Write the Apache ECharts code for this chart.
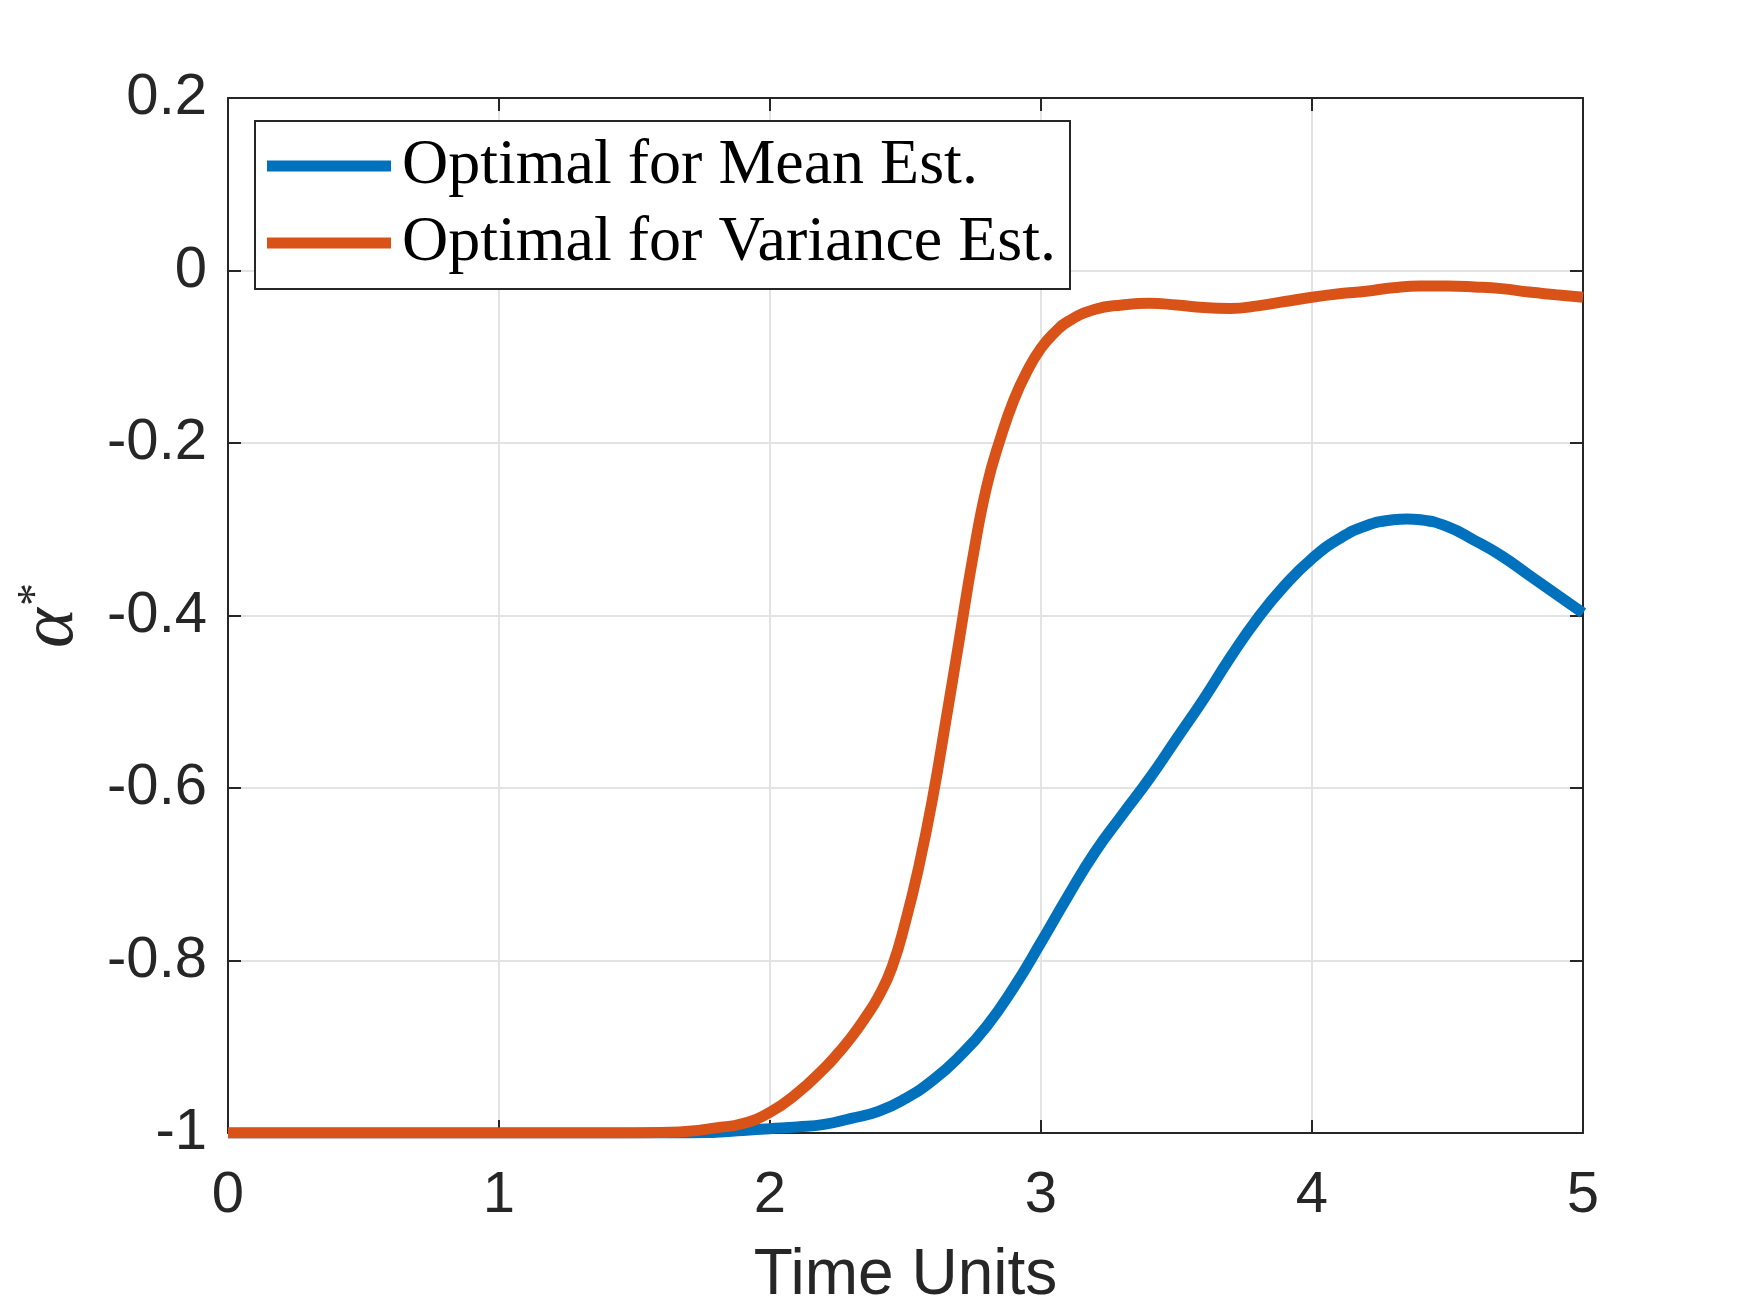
<!DOCTYPE html>
<html>
<head>
<meta charset="utf-8">
<script src="https://cdn.jsdelivr.net/npm/echarts@6/dist/echarts.min.js"></script>
<style>
  html, body { margin: 0; padding: 0; background: #fff; }
  #chart { width: 1750px; height: 1313px; }
</style>
</head>
<body>
<div id="chart"></div>
<script>
// Optimal for Mean Est. : sample times and values
var meanTimes = [
    0.0, 0.1, 0.2, 0.3, 0.4, 0.5, 0.6, 0.7, 0.8, 0.9,
    1.0, 1.1, 1.2, 1.3, 1.4, 1.5, 1.6, 1.7, 1.8, 1.9,
    2.0, 2.1, 2.2, 2.3, 2.4, 2.5, 2.6, 2.7, 2.8, 2.9,
    3.0, 3.1, 3.2, 3.3, 3.4, 3.5, 3.6, 3.7, 3.8, 3.9,
    4.0, 4.1, 4.2, 4.3, 4.35, 4.4, 4.5, 4.6, 4.7, 4.8,
    4.9, 5.0
];
var meanEst = [
    -1, -1, -1, -1, -1, -1, -1, -1, -1, -1,
    -1, -1, -1, -1, -1, -1, -1, -1, -0.999, -0.997,
    -0.995, -0.993, -0.990, -0.983, -0.975, -0.960, -0.939, -0.911, -0.876, -0.831,
    -0.779, -0.725, -0.674, -0.631, -0.589, -0.543, -0.497, -0.448, -0.403, -0.365,
    -0.334, -0.311, -0.296, -0.289, -0.288, -0.289, -0.297, -0.313, -0.331, -0.353,
    -0.375, -0.397
];

// Optimal for Variance Est. : sample times and values
var varianceTimes = [
    0.0, 0.1, 0.2, 0.3, 0.4, 0.5, 0.6, 0.7, 0.8, 0.9,
    1.0, 1.1, 1.2, 1.3, 1.4, 1.5, 1.6, 1.7, 1.8, 1.9,
    2.0, 2.1, 2.2, 2.25, 2.3, 2.35, 2.4, 2.45, 2.5, 2.55,
    2.6, 2.65, 2.7, 2.75, 2.8, 2.85, 2.9, 2.95, 3.0, 3.05,
    3.1, 3.2, 3.3, 3.4, 3.5, 3.6, 3.7, 3.8, 3.9, 4.0,
    4.1, 4.2, 4.3, 4.4, 4.5, 4.6, 4.7, 4.8, 4.9, 5.0
];
var varianceEst = [
    -1, -1, -1, -1, -1, -1, -1, -1, -1, -1,
    -1, -1, -1, -1, -1, -1, -0.9995, -0.998, -0.994, -0.989,
    -0.976, -0.954, -0.925, -0.908, -0.889, -0.867, -0.842, -0.808, -0.755, -0.690,
    -0.612, -0.520, -0.425, -0.330, -0.250, -0.195, -0.150, -0.116, -0.090, -0.072,
    -0.059, -0.045, -0.040, -0.038, -0.040, -0.043, -0.044, -0.041, -0.036, -0.031,
    -0.027, -0.024, -0.020, -0.018, -0.018, -0.019, -0.021, -0.025, -0.028, -0.031
];

var seriesNames = ['Optimal for Mean Est.', 'Optimal for Variance Est.'];
var seriesColors = ['#0072BD', '#D95319'];

var xTicks = { min: 0, max: 5, interval: 1 };
var yTicks = { min: -1, max: 0.2, interval: 0.2 };

function pairs(xs, ys) {
    var out = [];
    for (var i = 0; i < xs.length; i++) {
        out.push([xs[i], ys[i]]);
    }
    return out;
}

var chart = echarts.init(document.getElementById('chart'), null, { renderer: 'canvas' });

var axisColor = '#262626';
var gridColor = '#e3e3e3';
var tickFont = { color: axisColor, fontFamily: 'Liberation Sans, Arial, sans-serif', fontSize: 58 };

function boxAxis(dim, pos, ticks, primary) {
    var ax = {
        type: 'value',
        position: pos,
        min: ticks.min,
        max: ticks.max,
        interval: ticks.interval,
        axisLine: { show: true, onZero: false, lineStyle: { color: axisColor, width: 2 } },
        axisTick: { show: true, inside: true, length: 13, lineStyle: { color: axisColor, width: 2 } },
        splitLine: { show: primary, lineStyle: { color: gridColor, width: 2 } },
        axisLabel: { show: primary }
    };
    if (primary) {
        ax.axisLabel = Object.assign({ show: true, margin: dim === 'x' ? 34 : 21 }, tickFont);
        if (dim === 'y') {
            ax.axisLabel.padding = [6, 0, 0, 0];
        }
    }
    return ax;
}

var xBottom = boxAxis('x', 'bottom', xTicks, true);
xBottom.name = 'Time Units';
xBottom.nameLocation = 'middle';
xBottom.nameGap = 111;
xBottom.nameTextStyle = { color: axisColor, fontFamily: 'Liberation Sans, Arial, sans-serif', fontSize: 64 };

var yLeft = boxAxis('y', 'left', yTicks, true);
yLeft.name = '{a|α}{s|*}';
yLeft.nameLocation = 'middle';
yLeft.nameRotate = 90;
yLeft.nameGap = 138;
yLeft.nameTextStyle = {
    rich: {
        a: { fontFamily: 'Liberation Serif, serif', fontStyle: 'italic', fontSize: 76, color: axisColor },
        s: { fontFamily: 'Liberation Serif, serif', fontSize: 46, color: axisColor, verticalAlign: 'top', padding: [0, 0, 8, 2] }
    }
};

chart.setOption({
    animation: false,
    backgroundColor: '#ffffff',
    color: seriesColors,

    grid: {
        left: 228,
        top: 98,
        width: 1355,
        height: 1038,
        containLabel: false
    },

    legend: {
        orient: 'vertical',
        left: 255,
        top: 121,
        data: seriesNames,
        icon: 'rect',
        itemWidth: 124,
        itemHeight: 11,
        itemGap: 13,
        padding: [13, 14, 14, 12],
        borderColor: axisColor,
        borderWidth: 2,
        backgroundColor: '#ffffff',
        textStyle: {
            fontFamily: 'Liberation Serif, Times New Roman, serif',
            fontSize: 64,
            lineHeight: 62,
            color: '#000000',
            padding: [0, 0, 0, 6]
        }
    },

    xAxis: [xBottom, boxAxis('x', 'top', xTicks, false)],
    yAxis: [yLeft, boxAxis('y', 'right', yTicks, false)],

    series: [
        {
            name: seriesNames[0],
            type: 'line',
            xAxisIndex: 0,
            yAxisIndex: 0,
            smooth: 0.5,
            showSymbol: false,
            lineStyle: { width: 11, color: seriesColors[0] },
            data: pairs(meanTimes, meanEst)
        },
        {
            name: seriesNames[1],
            type: 'line',
            xAxisIndex: 0,
            yAxisIndex: 0,
            smooth: 0.5,
            showSymbol: false,
            lineStyle: { width: 11, color: seriesColors[1] },
            data: pairs(varianceTimes, varianceEst)
        }
    ]
});
</script>
</body>
</html>
